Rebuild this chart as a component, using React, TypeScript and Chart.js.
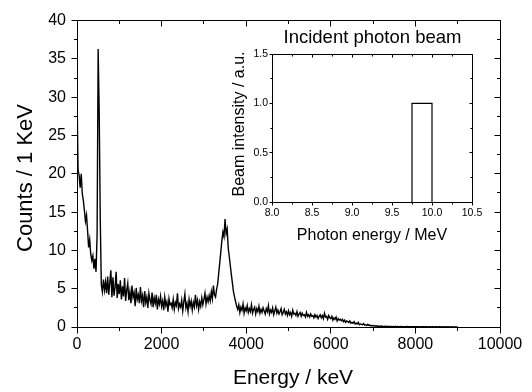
import { useEffect, useRef } from "react";
import { Chart, registerables } from "chart.js";

Chart.register(...registerables);

// ---------- main spectrum data ----------
const ENERGY_STEP_KEV = 25; // bin spacing of the listed counts, starting at 0 keV
const counts: number[] = [
  30.5, 20.5, 19.8, 18.2, 20.0, 17.4, 16.5, 15.2, 13.8, 14.6,
  12.6, 10.4, 11.4, 9.5, 8.7, 9.3, 7.6, 8.9, 7.2, 12.0,
  36.3, 28.0, 14.0, 5.5, 4.6, 6.2, 4.8, 5.9, 4.4, 6.6,
  4.2, 5.8, 7.4, 3.9, 6.5, 4.1, 5.2, 7.2, 3.8, 5.6,
  4.3, 6.1, 3.6, 5.3, 4.0, 6.4, 3.4, 4.8, 5.7, 3.5,
  4.6, 3.1, 5.4, 3.9, 4.5, 2.7, 5.1, 3.6, 4.2, 3.1,
  5.2, 3.4, 4.1, 2.6, 4.7, 3.2, 3.9, 2.5, 4.4, 3.5,
  3.0, 4.5, 2.6, 3.8, 3.1, 4.2, 2.3, 3.6, 3.0, 4.0,
  2.7, 3.4, 2.2, 3.9, 2.8, 3.3, 2.0, 3.7, 2.9, 3.1,
  2.5, 3.6, 2.3, 3.2, 2.8, 4.4, 2.4, 3.0, 2.6, 3.5,
  2.1, 3.3, 4.3, 2.5, 3.1, 2.0, 3.6, 2.7, 3.4, 2.2,
  3.2, 2.6, 4.2, 2.8, 3.5, 2.3, 3.3, 2.7, 3.8, 2.9,
  3.6, 4.4, 3.0, 3.9, 3.3, 4.1, 3.4, 4.6, 3.7, 5.4,
  4.2, 3.9, 4.9, 5.6, 7.0, 8.4, 9.8, 11.3, 12.4, 11.8,
  14.1, 12.2, 12.8, 10.3, 9.2, 8.0, 6.8, 5.7, 4.6, 3.9,
  3.3, 2.7, 2.3, 2.9, 1.9, 2.6, 2.2, 3.0, 1.8, 2.5,
  2.1, 2.8, 1.9, 2.4, 2.0, 2.9, 1.8, 2.3, 2.6, 1.7,
  2.4, 2.0, 2.7, 1.8, 2.3, 1.9, 2.5, 2.1, 1.7, 2.4,
  2.0, 2.8, 1.7, 2.2, 1.9, 2.5, 1.6, 2.1, 2.6, 1.8,
  2.2, 1.7, 2.0, 2.4, 1.6, 1.9, 2.3, 1.7, 2.0, 1.5,
  2.1, 1.6, 1.9, 1.4, 2.2, 1.7, 1.8, 1.5, 2.0, 1.4,
  1.7, 1.9, 1.4, 1.8, 1.5, 1.6, 1.3, 1.9, 1.4, 1.6,
  1.3, 1.7, 1.4, 1.5, 1.2, 1.6, 1.3, 1.5, 1.1, 1.4,
  1.6, 1.2, 1.5, 1.1, 1.8, 1.3, 1.4, 1.0, 1.5, 1.2,
  1.1, 1.4, 0.9, 1.2, 1.0, 1.3, 0.8, 1.1, 0.9, 1.0,
  0.8, 1.0, 0.7, 0.9, 0.6, 0.8, 0.7, 0.6, 0.8, 0.5,
  0.6, 0.5, 0.7, 0.4, 0.5, 0.4, 0.6, 0.3, 0.4, 0.35,
  0.3, 0.45, 0.25, 0.3, 0.2, 0.35, 0.2, 0.25, 0.15, 0.2,
  0.15, 0.2, 0.1, 0.15, 0.1, 0.12, 0.08, 0.1, 0.12, 0.07,
  0.08, 0.1, 0.06, 0.09, 0.05, 0.08, 0.06, 0.07, 0.05, 0.06,
  0.05, 0.07, 0.04, 0.06, 0.05, 0.04, 0.06, 0.03, 0.05, 0.04,
  0.05, 0.03, 0.06, 0.04, 0.05, 0.03, 0.04, 0.05, 0.03, 0.04,
  0.04, 0.05, 0.03, 0.04, 0.02, 0.04, 0.03, 0.05, 0.03, 0.04,
  0.03, 0.04, 0.02, 0.03, 0.04, 0.02, 0.03, 0.04, 0.02, 0.03,
  0.03, 0.02, 0.04, 0.03, 0.02, 0.03, 0.02, 0.03, 0.02, 0.03,
  0.02, 0.03, 0.02, 0.02, 0.03, 0.02, 0.02, 0.01, 0.02, 0.02,
  0.02,
];

const mainXMajor = [0, 2000, 4000, 6000, 8000, 10000];
const mainXMinor = [1000, 3000, 5000, 7000, 9000];
const mainYMajor = [0, 5, 10, 15, 20, 25, 30, 35, 40];
const mainYMinor = [2.5, 7.5, 12.5, 17.5, 22.5, 27.5, 32.5, 37.5];

// ---------- inset data ----------
const beamEdges = [9.75, 10.0]; // MeV
const beamIntensity = [1.0];
const insetXMajor = [8.0, 8.5, 9.0, 9.5, 10.0, 10.5];
const insetXMinor = [8.25, 8.75, 9.25, 9.75, 10.25];
const insetYMajor = [0.0, 0.5, 1.0, 1.5];
const insetYMinor = [0.25, 0.75, 1.25];

const FONT = "'Liberation Sans', Arial, Helvetica, sans-serif";

type TitleSpec = { text: string; x: number; y: number; size: number; rotate?: boolean };

function framePlugin(cfg: {
  xMajor: number[]; xMinor: number[]; yMajor: number[]; yMinor: number[];
  major: number; minor: number; titles: TitleSpec[];
}) {
  return {
    id: "frameTicks",
    afterDraw(chart: any) {
      const { ctx, chartArea: a, scales } = chart;
      const xs = scales.x, ys = scales.y;
      const snap = (p: number) => Math.floor(p) + 0.5;
      const L = snap(a.left), R = snap(a.right), T = snap(a.top), B = snap(a.bottom);
      ctx.save();
      ctx.strokeStyle = "#000";
      ctx.lineWidth = 1;
      ctx.beginPath();
      ctx.rect(L, T, R - L, B - T);
      const xt = (v: number, len: number) => {
        const p = snap(xs.getPixelForValue(v));
        ctx.moveTo(p, B); ctx.lineTo(p, B + len); // bottom: outward
        ctx.moveTo(p, T); ctx.lineTo(p, T + len); // top: inward
      };
      const yt = (v: number, len: number) => {
        const p = snap(ys.getPixelForValue(v));
        ctx.moveTo(L, p); ctx.lineTo(L - len, p); // left: outward
        ctx.moveTo(R, p); ctx.lineTo(R - len, p); // right: inward
      };
      cfg.xMajor.forEach((v) => xt(v, cfg.major));
      cfg.xMinor.forEach((v) => xt(v, cfg.minor));
      cfg.yMajor.forEach((v) => yt(v, cfg.major));
      cfg.yMinor.forEach((v) => yt(v, cfg.minor));
      ctx.stroke();
      ctx.fillStyle = "#000";
      ctx.textAlign = "center";
      ctx.textBaseline = "alphabetic";
      for (const t of cfg.titles) {
        ctx.font = `${t.size}px ${FONT}`;
        ctx.save();
        ctx.translate(t.x, t.y);
        if (t.rotate) ctx.rotate(-Math.PI / 2);
        ctx.fillText(t.text, 0, 0);
        ctx.restore();
      }
      ctx.restore();
    },
  };
}

export default function App() {
  const mainRef = useRef<HTMLCanvasElement | null>(null);
  const insetRef = useRef<HTMLCanvasElement | null>(null);

  useEffect(() => {
    Chart.defaults.color = "#000";
    Chart.defaults.font.family = FONT;

    const spectrum = counts.map((c, i) => ({ x: i * ENERGY_STEP_KEV, y: c }));

    const main = new Chart(mainRef.current!, {
      type: "line",
      data: {
        datasets: [
          {
            data: spectrum,
            borderColor: "#000",
            borderWidth: 1.4,
            pointRadius: 0,
            tension: 0,
            fill: false,
          },
        ],
      },
      options: {
        animation: false,
        responsive: false,
        devicePixelRatio: 1,
        layout: { padding: { top: 14, right: 32, left: 0, bottom: 0 } },
        plugins: { legend: { display: false }, tooltip: { enabled: false } },
        scales: {
          x: {
            type: "linear",
            min: 0,
            max: 10000,
            ticks: {
              stepSize: 2000, font: { size: 16 }, color: "#000", padding: 8, maxRotation: 0, autoSkip: false,
              callback: (v: any) => String(v),
            },
            grid: { display: false, drawTicks: false },
            border: { display: false },
            afterFit: (s: any) => { s.height = 65; },
          },
          y: {
            type: "linear",
            min: 0,
            max: 40,
            ticks: { stepSize: 5, font: { size: 16 }, color: "#000", padding: 11, callback: (v: any) => String(v) },
            grid: { display: false, drawTicks: false },
            border: { display: false },
            afterFit: (s: any) => { s.width = 77; },
          },
        },
      },
      plugins: [
        framePlugin({
          xMajor: mainXMajor, xMinor: mainXMinor, yMajor: mainYMajor, yMinor: mainYMinor,
          major: 6, minor: 3.5,
          titles: [
            { text: "Energy / keV", x: 293, y: 384, size: 21 },
            { text: "Counts / 1 KeV", x: 32, y: 178, size: 22, rotate: true },
          ],
        }) as any,
      ],
    });

    const [e0, e1] = beamEdges;
    const h = beamIntensity[0];
    const beamPath = [
      { x: e0, y: 0 },
      { x: e0, y: h },
      { x: e1, y: h },
      { x: e1, y: 0 },
    ];

    const inset = new Chart(insetRef.current!, {
      type: "line",
      data: {
        datasets: [
          {
            data: beamPath,
            borderColor: "#000",
            borderWidth: 1.2,
            pointRadius: 0,
            tension: 0,
            fill: false,
          },
        ],
      },
      options: {
        animation: false,
        responsive: false,
        devicePixelRatio: 1,
        layout: { padding: { top: 54, right: 60, left: 232, bottom: 150 } },
        plugins: { legend: { display: false }, tooltip: { enabled: false } },
        scales: {
          x: {
            type: "linear",
            min: 8,
            max: 10.5,
            ticks: {
              stepSize: 0.5, font: { size: 10.5 }, color: "#000", padding: 5, maxRotation: 0, autoSkip: false,
              callback: (v: any) => Number(v).toFixed(1),
            },
            grid: { display: false, drawTicks: false },
            border: { display: false },
            afterFit: (s: any) => { s.height = 40; },
          },
          y: {
            type: "linear",
            min: 0,
            max: 1.5,
            ticks: {
              stepSize: 0.5, font: { size: 10.5 }, color: "#000", padding: 4,
              callback: (v: any) => Number(v).toFixed(1),
            },
            grid: { display: false, drawTicks: false },
            border: { display: false },
            afterFit: (s: any) => { s.width = 40; },
          },
        },
      },
      plugins: [
        framePlugin({
          xMajor: insetXMajor, xMinor: insetXMinor, yMajor: insetYMajor, yMinor: insetYMinor,
          major: 3, minor: 2,
          titles: [
            { text: "Incident photon beam", x: 372.5, y: 43.3, size: 18.5 },
            { text: "Photon energy / MeV", x: 372, y: 239.5, size: 16 },
            { text: "Beam intensity / a.u.", x: 243.5, y: 124, size: 16, rotate: true },
          ],
        }) as any,
      ],
    });

    return () => {
      main.destroy();
      inset.destroy();
    };
  }, []);

  return (
    <div style={{ position: "fixed", left: 0, top: 0, width: 532, height: 392, background: "#fff" }}>
      <canvas ref={mainRef} width={532} height={392} style={{ position: "absolute", left: 0, top: 0 }} />
      <canvas ref={insetRef} width={532} height={392} style={{ position: "absolute", left: 0, top: 0, pointerEvents: "none" }} />
    </div>
  );
}
